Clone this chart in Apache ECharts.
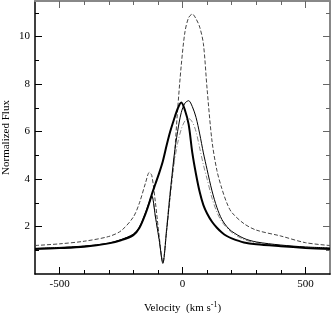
<!DOCTYPE html>
<html><head><meta charset="utf-8">
<script src="https://cdn.jsdelivr.net/npm/echarts@6/dist/echarts.min.js"></script>
<style>html,body{margin:0;padding:0;background:#fff}#c{width:331px;height:313px}</style>
</head><body><div id="c"></div>
<script>
var velocity = [-600,-500,-400,-300,-250,-200,-175,-150,-135,-125,-110,-95,-80,-65,-50,-35,-20,-5,10,25,40,55,70,85,100,120,140,160,180,200,250,300,400,500,600];
var fluxDashed = [1.2,1.27,1.38,1.58,1.82,2.4,3.0,3.85,4.28,4.15,3.0,1.6,0.5,1.8,3.3,4.7,6.9,8.8,10.2,10.8,10.95,10.75,10.4,9.7,7.8,5.6,4.36,3.6,3.0,2.6,2.12,1.85,1.6,1.32,1.2];
var fluxThick = [1.05,1.09,1.15,1.29,1.42,1.64,1.95,2.55,3.0,3.35,3.8,4.25,4.75,5.4,6.0,6.5,6.95,7.22,6.9,6.3,5.1,4.2,3.45,2.9,2.55,2.2,1.95,1.75,1.6,1.5,1.33,1.25,1.17,1.1,1.05];
var fluxThin = [1.08,1.12,1.18,1.3,1.45,1.68,1.98,2.6,3.05,3.3,2.4,1.45,0.45,1.8,3.4,4.9,6.0,6.8,7.2,7.3,7.05,6.6,5.9,5.1,4.4,3.5,2.8,2.3,2.0,1.8,1.5,1.35,1.22,1.14,1.1];
var fluxDashDot = [1.07,1.11,1.17,1.29,1.44,1.66,1.95,2.55,3.0,3.25,2.4,1.45,0.45,1.9,3.5,4.6,5.5,6.1,6.45,6.55,6.4,6.0,5.3,4.6,4.0,3.2,2.6,2.2,1.95,1.75,1.45,1.32,1.2,1.13,1.08];
var xMajor = [-500,0,500];
var xMinor = [-400,-300,-200,-100,100,200,300,400];
var yMajor = [2,4,6,8,10];
var yMinor = [1,3,5,7,9,11];

function pairs(ys){ return velocity.map(function(v,i){ return [v, ys[i]]; }); }
var font = 'Liberation Serif';
var chart = echarts.init(document.getElementById('c'));
function xa(pos, ticks, len, labels, lineColor, showLine){
  return {type:'value', min:-600, max:600, position:pos,
    axisLine:{show:showLine, onZero:false, lineStyle:{color:lineColor, width:pos==='top'?2:1.5}},
    axisTick:{show:true, inside:true, length:len, customValues:ticks, lineStyle:{color:pos==='top'?'#666':'#000'}},
    axisLabel:{show:labels, customValues:xMajor, color:'#000', fontFamily:font, fontSize:11, margin:5},
    splitLine:{show:false}};
}
function ya(pos, ticks, len, labels, lineColor, showLine){
  return {type:'value', min:0, max:11.5, position:pos,
    axisLine:{show:showLine, onZero:false, lineStyle:{color:lineColor, width:pos==='right'?2:1.5}},
    axisTick:{show:true, inside:true, length:len, customValues:ticks, lineStyle:{color:pos==='right'?'#666':'#000'}},
    axisLabel:{show:labels, customValues:yMajor, color:'#000', fontFamily:font, fontSize:11, margin:5},
    splitLine:{show:false}};
}
var bx = xa('bottom', xMajor, 7, true, '#000', true);
bx.name = 'Velocity  (km s{sup|-1})';
bx.nameLocation = 'middle';
bx.nameGap = 27;
bx.nameTextStyle = {color:'#000', fontFamily:font, fontSize:11, rich:{sup:{fontFamily:font, fontSize:8, verticalAlign:'top', padding:[0,0,6,0]}}};
var ly = ya('left', yMajor, 7, true, '#000', true);
ly.name = 'Normalized Flux';
ly.nameLocation = 'middle';
ly.nameGap = 23;
ly.nameMoveOverlap = false;
ly.nameTextStyle = {color:'#000', fontFamily:font, fontSize:11};
chart.setOption({
  animation:false,
  grid:{left:35, right:1, top:1, bottom:39, containLabel:false, outerBoundsMode:'none'},
  xAxis:[bx, xa('bottom', xMinor, 4, false, '#000', false), xa('top', xMajor, 7, false, '#888', true), xa('top', xMinor, 4, false, '#888', false)],
  yAxis:[ly, ya('left', yMinor, 4, false, '#000', false), ya('right', yMajor, 7, false, '#888', true), ya('right', yMinor, 4, false, '#888', false)],
  series:[
    {type:'line', data:pairs(fluxDashed), showSymbol:false, smooth:0.3, lineStyle:{color:'#444', width:1, type:[4,2]}},
    {type:'line', data:pairs(fluxDashDot), showSymbol:false, smooth:0.3, lineStyle:{color:'#888', width:1, type:[5,2,1,2]}},
    {type:'line', data:pairs(fluxThin), showSymbol:false, smooth:0.3, lineStyle:{color:'#000', width:1}},
    {type:'line', data:pairs(fluxThick), showSymbol:false, smooth:0.3, lineStyle:{color:'#000', width:2}}
  ]
});
</script></body></html>
